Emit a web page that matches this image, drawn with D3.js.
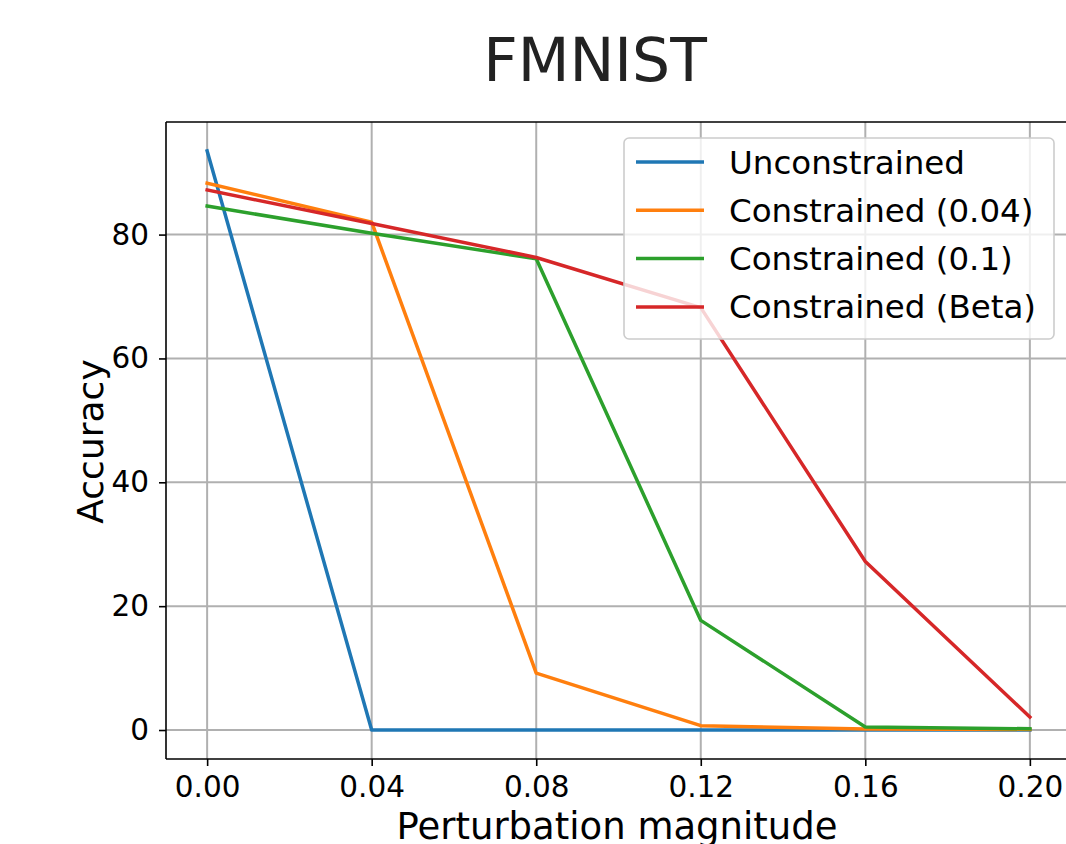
<!DOCTYPE html>
<html>
<head>
<meta charset="utf-8">
<script src="https://cdn.jsdelivr.net/npm/d3@7"></script>
<style>
  body { margin: 0; background: #fff; overflow: hidden; }
  svg { font-family: "DejaVu Sans", sans-serif; display: block; }
</style>
</head>
<body>
<script>
var xValues = [0.00, 0.04, 0.08, 0.12, 0.16, 0.20];
var seriesNames = ['Unconstrained', 'Constrained (0.04)', 'Constrained (0.1)', 'Constrained (Beta)'];
var seriesColors = ['#1f77b4', '#ff7f0e', '#2ca02c', '#d62728'];
var unconstrained = [93.5, 0.0, 0.0, 0.0, 0.0, 0.0];
var constrained004 = [88.3, 82.0, 9.2, 0.7, 0.15, 0.1];
var constrained01 = [84.6, 80.2, 76.1, 17.7, 0.5, 0.2];
var constrainedBeta = [87.2, 81.8, 76.3, 68.2, 27.2, 2.1];
var xTicks = [0.00, 0.04, 0.08, 0.12, 0.16, 0.20];
var yTicks = [0, 20, 40, 60, 80];

var chart = {
    width: 1066,
    height: 844,
    left: 166,
    right: 1071,
    top: 122,
    bottom: 759
};

var allSeries = [unconstrained, constrained004, constrained01, constrainedBeta];

var svg = d3.select('body').append('svg')
    .attr('width', chart.width)
    .attr('height', chart.height);

var x = d3.scaleLinear().domain([-0.01, 0.21]).range([chart.left, chart.right]);
var y = d3.scaleLinear().domain([-4.68, 98.18]).range([chart.bottom, chart.top]);

// grid
var grid = svg.append('g');
grid.selectAll('.gx').data(xTicks).enter().append('line')
    .attr('x1', function(d) { return x(d); })
    .attr('x2', function(d) { return x(d); })
    .attr('y1', chart.top).attr('y2', chart.bottom)
    .style('stroke', '#b0b0b0').style('stroke-width', 2);
grid.selectAll('.gy').data(yTicks).enter().append('line')
    .attr('y1', function(d) { return y(d); })
    .attr('y2', function(d) { return y(d); })
    .attr('x1', chart.left).attr('x2', chart.right)
    .style('stroke', '#b0b0b0').style('stroke-width', 2);

// lines
var line = d3.line()
    .x(function(d, i) { return x(xValues[i]); })
    .y(function(d) { return y(d); });

svg.append('g').selectAll('path').data(allSeries).enter().append('path')
    .attr('d', function(d) { return line(d); })
    .style('fill', 'none')
    .style('stroke', function(d, i) { return seriesColors[i]; })
    .style('stroke-width', 3.5)
    .style('stroke-linejoin', 'round')
    .style('stroke-linecap', 'square');

// axes
var xAxis = d3.axisBottom(x).tickValues(xTicks).tickFormat(d3.format('.2f')).tickSize(7).tickPadding(10);
var yAxis = d3.axisLeft(y).tickValues(yTicks).tickFormat(d3.format('d')).tickSize(7).tickPadding(10);

var gx = svg.append('g').attr('transform', 'translate(0,' + chart.bottom + ')').call(xAxis);
var gy = svg.append('g').attr('transform', 'translate(' + chart.left + ',0)').call(yAxis);
[gx, gy].forEach(function(g) {
    g.selectAll('text').style('font-size', '29.5px').style('fill', '#000')
        .style('font-family', '"DejaVu Sans", sans-serif');
    g.selectAll('line').style('stroke', '#000').style('stroke-width', 1.6);
    g.select('.domain').remove();
});

// spines
svg.append('line').attr('x1', chart.left).attr('x2', chart.right)
    .attr('y1', chart.top).attr('y2', chart.top)
    .style('stroke', '#000').style('stroke-width', 1.6);
svg.append('line').attr('x1', chart.left).attr('x2', chart.right)
    .attr('y1', chart.bottom).attr('y2', chart.bottom)
    .style('stroke', '#000').style('stroke-width', 1.6);
svg.append('line').attr('x1', chart.left).attr('x2', chart.left)
    .attr('y1', chart.top).attr('y2', chart.bottom)
    .style('stroke', '#000').style('stroke-width', 1.6);

// title and labels
svg.append('text').attr('x', 595).attr('y', 81)
    .attr('text-anchor', 'middle')
    .style('font-size', '60px').style('fill', '#222')
    .text('FMNIST');

svg.append('text').attr('x', 617).attr('y', 839)
    .attr('text-anchor', 'middle')
    .style('font-size', '37px')
    .text('Perturbation magnitude');

svg.append('text')
    .attr('transform', 'translate(103,' + ((chart.top + chart.bottom) / 2 + 1) + ') rotate(-90)')
    .attr('text-anchor', 'middle')
    .style('font-size', '36px')
    .text('Accuracy');

// legend
var legend = svg.append('g').attr('transform', 'translate(624,138)');
legend.append('rect')
    .attr('width', 430).attr('height', 201)
    .attr('rx', 5).attr('ry', 5)
    .style('fill', 'rgba(255,255,255,0.8)')
    .style('stroke', '#cccccc').style('stroke-width', 1.6);

var items = legend.selectAll('.item').data(seriesNames).enter().append('g')
    .attr('transform', function(d, i) { return 'translate(0,' + (24 + i * 48.3) + ')'; });
items.append('line')
    .attr('x1', 12).attr('x2', 80)
    .style('stroke', function(d, i) { return seriesColors[i]; })
    .style('stroke-width', 3.5);
items.append('text')
    .attr('x', 105).attr('y', 11.5)
    .style('font-size', '32.5px')
    .text(function(d) { return d; });
</script>
</body>
</html>
